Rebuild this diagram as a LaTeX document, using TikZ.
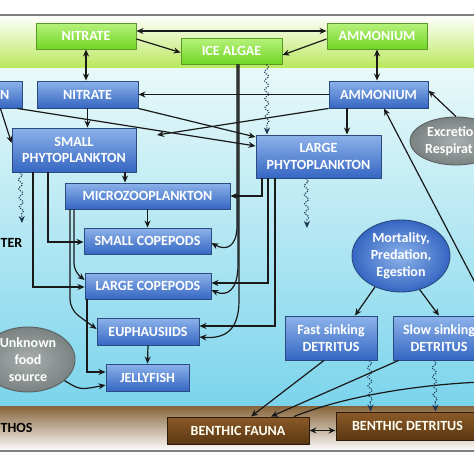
\documentclass[tikz,border=0pt]{standalone}
\usepackage{fontspec}
\setmainfont{Carlito}
\usetikzlibrary{arrows.meta,decorations.pathmorphing,shapes.geometric,calc}
\definecolor{bluetop}{HTML}{8DB3EA}
\definecolor{bluebot}{HTML}{3566C2}
\definecolor{bluedk}{HTML}{2A4A80}
\definecolor{greentop}{HTML}{B6F27C}
\definecolor{greenbot}{HTML}{72D625}
\definecolor{greendk}{HTML}{5A9A2A}
\definecolor{browntop}{HTML}{8B5A28}
\definecolor{brownbot}{HTML}{5B3712}
\definecolor{browndk}{HTML}{2E1C0A}
\definecolor{grayin}{HTML}{A8AEAE}
\definecolor{grayout}{HTML}{7B8282}
\definecolor{graydk}{HTML}{5A6262}
\definecolor{icegreen}{HTML}{B9E85A}
\definecolor{icemid}{HTML}{E4F7CC}
\definecolor{watertop}{HTML}{E9F9F9}
\definecolor{waterbot}{HTML}{7BD4EC}
\definecolor{sedtop}{HTML}{86643A}
\definecolor{wavecol}{HTML}{1C3550}
\tikzset{
  txt/.style={font=\bfseries\fontsize{14}{16.8}\selectfont},
  box/.style={txt, draw, line width=0.9pt, minimum height=26pt, inner sep=1pt, align=center, text=white},
  bbox/.style={box, draw=bluedk, top color=bluetop, bottom color=bluebot},
  gbox/.style={box, draw=greendk, top color=greentop, bottom color=greenbot},
  brbox/.style={box, draw=browndk, top color=browntop, bottom color=brownbot, text=white!95!yellow},
  blueell/.style={txt, ellipse, draw=bluedk, line width=0.9pt, inner sep=0pt, align=center, text=white, inner color=bluetop, outer color=bluebot},
  grayell/.style={txt, ellipse, draw=graydk, line width=0.9pt, inner sep=0pt, align=center, text=white, inner color=grayin, outer color=grayout},
  lbl/.style={txt, text=black, inner sep=0pt},
  conn/.style={draw=black!90, line width=1.2pt},
  arr/.style={conn, -{Stealth[length=7pt,width=6pt]}},
  darr/.style={conn, {Stealth[length=7pt,width=6pt]}-{Stealth[length=7pt,width=6pt]}},
  wavy/.style={draw=wavecol, line width=1.1pt, dash pattern=on 1.1pt off 1.3pt, decorate,
    decoration={snake, amplitude=2pt, segment length=9pt, post length=6pt},
    -{Stealth[length=7pt,width=6pt]}}
}
\begin{document}
\begin{tikzpicture}[x=1pt,y=-1pt]
\useasboundingbox (0,0) rectangle (474,474);
\clip (0,0) rectangle (474,474);
% backgrounds
\fill[white] (0,0) rectangle (474,474);
\shade[top color=white, middle color=icemid, bottom color=icegreen] (0,15) rectangle (474,68);
\shade[top color=watertop, bottom color=waterbot] (0,68) rectangle (474,406);
\shade[top color=sedtop, bottom color=white] (0,406) rectangle (474,451);
\draw[gray, line width=1.2pt] (0,15) -- (474,15);
\draw[gray, line width=1.2pt] (0,451) -- (474,451);
% nodes
\node[gbox, minimum width=100pt] (nitI) at (86,36) {NITRATE};
\node[gbox, minimum width=101pt] (algae) at (231.5,51) {ICE ALGAE};
\node[gbox, minimum width=100pt] (amI) at (377,36) {AMMONIUM};
\node[bbox, minimum width=82pt, minimum height=27pt] (iron) at (-19,94.5) {};
\node[lbl, text=white, anchor=east] (ironlbl) at (9.5,94.5) {N};
\node[bbox, minimum width=101pt, minimum height=27pt] (nitW) at (87.5,94.5) {NITRATE};
\node[bbox, minimum width=99pt, minimum height=27pt] (amW) at (378.5,94.5) {AMMONIUM};
\node[bbox, minimum width=124pt, minimum height=44pt] (SP) at (74,150) {SMALL\\PHYTOPLANKTON};
\node[bbox, minimum width=125pt, minimum height=43pt] (LP) at (318.5,156.5) {LARGE\\PHYTOPLANKTON};
\node[bbox, minimum width=165pt] (MZ) at (147.5,196) {MICROZOOPLANKTON};
\node[bbox, minimum width=127pt] (SC) at (147.5,241) {SMALL COPEPODS};
\node[bbox, minimum width=126pt] (LC) at (148,286) {LARGE COPEPODS};
\node[bbox, minimum width=102pt, minimum height=27pt] (EU) at (148,331.5) {EUPHAUSIIDS};
\node[bbox, minimum width=83pt, minimum height=27pt] (JF) at (147.5,377.5) {JELLYFISH};
\node[grayell, minimum width=94pt, minimum height=65pt] (UF) at (28,359.5) {Unknown\\food\\source};
\node[blueell, minimum width=98pt, minimum height=72pt] (MO) at (401,256) {Mortality,\\Predation,\\Egestion};
\node[grayell, minimum width=92pt, minimum height=48pt] (EX) at (456,141) {};
\node[lbl, text=white, align=left, anchor=west] (EXt) at (425,141.5) {\hspace*{2pt}Excretio\\Respirat};
\node[bbox, minimum width=92pt, minimum height=44pt] (FD) at (331,338) {Fast sinking\\DETRITUS};
\node[bbox, minimum width=92pt, minimum height=44pt] (SD) at (439,338) {Slow sinking\\DETRITUS};
\node[brbox, minimum width=142pt, minimum height=27pt] (BF) at (238,430.5) {BENTHIC FAUNA};
\node[brbox, minimum width=143pt, minimum height=28pt] (BD) at (407.5,426) {BENTHIC DETRITUS};
\node[lbl, anchor=west] (wlbl) at (0.5,243) {TER};
\node[lbl, anchor=west] (blbl) at (0.5,428) {THOS};
% ice connectors
\draw[darr] (nitI.south) -- (nitI.south |- nitW.north);
\draw[darr] (amI.south) -- (amI.south |- amW.north);
\draw[darr] ([yshift=5pt]nitI.east) -- ([yshift=5pt]amI.west);
\draw[arr] ([yshift=-3pt]nitI.east) -- ([yshift=-1.5pt]algae.west);
\draw[arr] ([yshift=-3pt]amI.west) -- ([yshift=-4pt]algae.east);
\draw[wavy] ([xshift=35pt]algae.south) -- ([xshift=-51.5pt]LP.north);
% nutrients
\draw[arr] (amW.west) -- (nitW.east);
\draw[arr] ([xshift=-5pt]iron.south east) -- ([yshift=10.5pt]LP.west);
\draw[arr] (nitW.south east) -- ([yshift=19.5pt]LP.west);
\coordinate (spx) at (157,135);
\draw[arr] (amW.south west) -- (spx);
\draw[arr] ([xshift=-22pt]iron.south east) -- ([yshift=7pt]SP.west);
\draw[arr] (nitW.south) -- (nitW.south |- SP.north);
\coordinate (a1) at ([xshift=-31.5pt]amW.south);
\draw[arr] (a1) -- (a1 |- LP.north);
\draw[arr] (EX.north) -- ([yshift=4pt]amW.east);
\coordinate (offA) at (482,296);
\draw[arr] (offA) -- ([xshift=5.5pt]amW.south);
% large phytoplankton
\coordinate (lp1) at ([xshift=-56.5pt]LP.south);
\draw[arr] (lp1) |- (MZ.east);
\coordinate (lp2) at ([xshift=-50.5pt]LP.south);
\coordinate (lc2) at ([yshift=3pt]LC.east);
\draw[arr] (lp2) |- (lc2);
\coordinate (lp3) at ([xshift=-43.5pt]LP.south);
\coordinate (eu3) at ([yshift=5.5pt]EU.east);
\draw[arr] (lp3) |- (eu3);
\coordinate (lpw) at ([xshift=-12.5pt]LP.south);
\coordinate (lpwe) at (307,228);
\draw[wavy] (lpw) -- (lpwe);
% ice algae grazing
\coordinate (ia1) at ([xshift=5.5pt]algae.south);
\coordinate (ia2) at ([xshift=6.5pt]algae.south);
\coordinate (ia3) at ([xshift=7.5pt]algae.south);
\draw[arr] (ia1) -- ++(0,161) .. controls +(0,22) and (226,251) .. ([yshift=-2pt]SC.east);
\draw[arr] (ia2) -- ++(0,200) .. controls +(0,26) and (227,297) .. ([yshift=-4pt]LC.east);
\draw[arr] (ia3) -- ++(0,236) .. controls +(0,30) and (225,339) .. ([yshift=-5.5pt]EU.east);
% small phytoplankton
\coordinate (sp1) at ([xshift=51pt]SP.south);
\draw[arr] (sp1) -- (sp1 |- MZ.north);
\coordinate (sp2) at ([xshift=-26pt]SP.south);
\coordinate (sc2) at ([yshift=-1pt]SC.west);
\draw[arr] (sp2) |- (sc2);
\coordinate (sp3) at ([xshift=-41pt]SP.south);
\coordinate (lc3) at ([yshift=-1pt]LC.west);
\draw[arr] (sp3) |- (lc3);
\coordinate (spw) at ([xshift=-54pt]SP.south);
\coordinate (spwe) at (22,223);
\draw[wavy] (spw) -- (spwe);
% microzooplankton
\draw[arr] (MZ.south) -- (SC.north);
\coordinate (mz1) at ([xshift=-73.5pt]MZ.south);
\coordinate (lc1) at ([yshift=6pt]LC.west);
\draw[arr, rounded corners=8pt] (mz1) -- ++(0,62) -- (lc1);
\coordinate (mz2) at ([xshift=-77.5pt]MZ.south);
\coordinate (eu2) at ([yshift=2.5pt]EU.west);
\draw[arr, rounded corners=10pt] (mz2) -- ++(0,100) -- (eu2);
% jellyfish
\coordinate (lcj) at ([xshift=-61pt]LC.south);
\coordinate (jf1) at ([yshift=5.5pt]JF.west);
\draw[arr] (lcj) |- (jf1);
\draw[arr] (EU.south) -- (JF.north);
\coordinate (jf2) at ([yshift=-7.5pt]JF.west);
\draw[arr] (UF.-30) .. controls (80,390) .. (jf2);
% detritus and benthos
\coordinate (fd1) at ([xshift=-7pt]FD.south);
\coordinate (bf1) at ([xshift=13pt]BF.north);
\draw[arr] (fd1) -- (bf1);
\coordinate (sd1) at ([xshift=6pt]SD.south west);
\coordinate (bf2) at ([xshift=33pt]BF.north);
\draw[arr] (sd1) -- (bf2);
\coordinate (offB) at (482,382);
\coordinate (bf3) at ([xshift=56pt]BF.north);
\draw[conn] (offB) .. controls (410,385) and (340,398) .. (bf3);
\coordinate (fdw) at ([xshift=-8pt]FD.south east);
\coordinate (bdw1) at ([xshift=35pt]BD.north west);
\draw[wavy] (fdw) -- (bdw1);
\coordinate (sdw) at ([xshift=-5pt]SD.south);
\coordinate (bdw2) at ([xshift=100pt]BD.north west);
\draw[wavy] (sdw) -- (bdw2);
\draw[darr] (BF.east) -- (BF.east -| BD.west);
\coordinate (fdn) at ([xshift=24pt]FD.north);
\draw[arr] (MO.-130) -- (fdn);
\draw[arr] (MO.-61) -- (SD.north);
\end{tikzpicture}
\end{document}
